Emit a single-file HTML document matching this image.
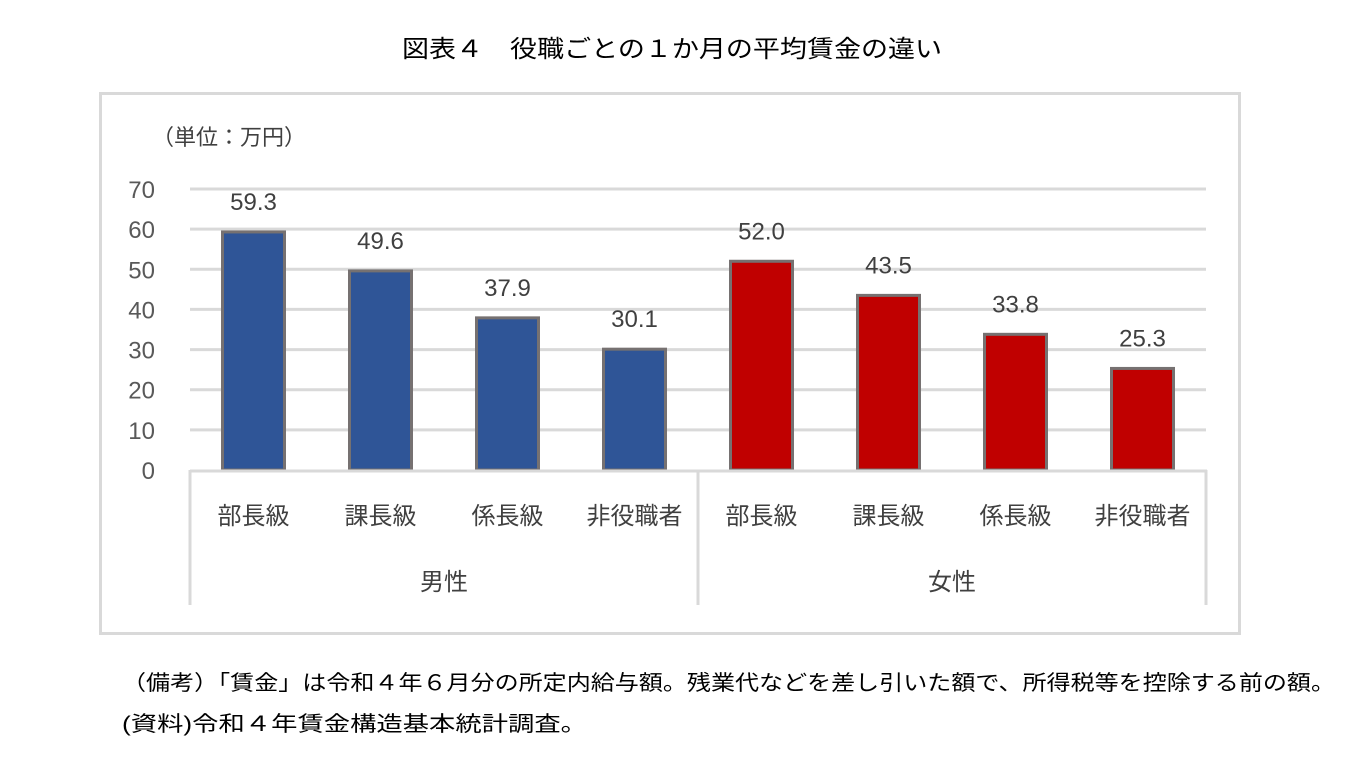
<!DOCTYPE html>
<html><head><meta charset="utf-8"><style>
html,body{margin:0;padding:0;background:#fff;}
svg{display:block;font-family:"Liberation Sans","Noto Sans CJK JP",sans-serif;}
</style></head><body>
<svg id="chart" width="1353" height="758" viewBox="0 0 1353 758">
<text x="672" y="57" font-size="24" text-anchor="middle" fill="#000" textLength="540" lengthAdjust="spacingAndGlyphs">図表４　役職ごとの１か月の平均賃金の違い</text>
<rect x="100.5" y="93.5" width="1139" height="540" fill="none" stroke="#d9d9d9" stroke-width="3"/>
<text x="152" y="145" font-size="22" fill="#404040">（単位：万円）</text>
<g id="grid"></g>
<g id="bars"></g>
<g id="axis"></g>
<text x="122" y="690" font-size="21" fill="#000" textLength="1213" lengthAdjust="spacingAndGlyphs">（備考）「賃金」は令和４年６月分の所定内給与額。残業代などを差し引いた額で、所得税等を控除する前の額。</text>
<text x="122" y="731" font-size="21" fill="#000" textLength="465" lengthAdjust="spacingAndGlyphs">(資料)令和４年賃金構造基本統計調査。</text>
</svg>
<script>
const categories = ["部長級","課長級","係長級","非役職者","部長級","課長級","係長級","非役職者"];
const groups = ["男性","女性"];
const values = [59.3,49.6,37.9,30.1,52.0,43.5,33.8,25.3];
const yTicks = [0,10,20,30,40,50,60,70];
const NS="http://www.w3.org/2000/svg";
const x0=190,x1=1206,y0=470,yTop=189,yMax=70;
const slot=(x1-x0)/categories.length;
const y=v=>y0-(v/yMax)*(y0-yTop);
const xc=i=>x0+slot*(i+0.5);
function mk(tag,attrs,parent,text){const e=document.createElementNS(NS,tag);for(const k in attrs)e.setAttribute(k,attrs[k]);if(text!==undefined)e.textContent=text;parent.appendChild(e);return e;}
const grid=document.getElementById('grid'),bars=document.getElementById('bars'),axis=document.getElementById('axis');
yTicks.forEach(t=>{
  if(t>0){const l=mk('line',{x1:x0,x2:x1,y1:y(t),y2:y(t),stroke:'#d9d9d9','stroke-width':3},grid);
  
  }
  const tx=mk('text',{x:155,y:y(t)+9,'font-size':24,fill:'#595959','text-anchor':'end'},grid,String(t));
  
  
});
values.forEach((v,i)=>{
  const w=62,col=i<4?'#2f5597':'#c00000';
  const r=mk('rect',{x:xc(i)-w/2,y:y(v),width:w,height:y0-y(v),fill:col,stroke:'#767171','stroke-width':3},bars);
  
  
  const t=mk('text',{x:xc(i),y:y(v)-22,'font-size':24,fill:'#404040','text-anchor':'middle'},bars,v.toFixed(1));
  
  
});
const ax=mk('line',{x1:x0,x2:x1+1,y1:y0+1,y2:y0+1,stroke:'#d9d9d9','stroke-width':3},axis);


[0,4,8].forEach(k=>{
  const l=mk('line',{x1:x0+slot*k,x2:x0+slot*k,y1:y0,y2:605,stroke:'#d9d9d9','stroke-width':3},axis);
  
  
});
categories.forEach((c,i)=>{
  const t=mk('text',{x:xc(i),y:524,'font-size':24,fill:'#404040','text-anchor':'middle'},axis,c);
  
  
});
groups.forEach((g,j)=>{
  const t=mk('text',{x:x0+slot*(4*j+2),y:590,'font-size':24,fill:'#404040','text-anchor':'middle'},axis,g);
  
  
});
</script>
</body></html>
